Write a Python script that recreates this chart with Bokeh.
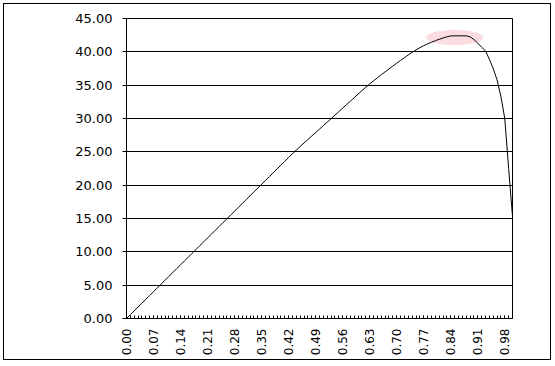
import math
from bokeh.plotting import figure
from bokeh.models import Range1d, FixedTicker, ColumnDataSource
from bokeh.embed import file_html
from bokeh.resources import INLINE

# category values (fraction), 0.00 .. 1.00
categories = [round(i * 0.01, 2) for i in range(101)]
# series values
values = [
    0.00, 0.58, 1.15, 1.73, 2.30, 2.88, 3.45, 4.03, 4.60, 5.18,
    5.75, 6.33, 6.90, 7.48, 8.05, 8.63, 9.20, 9.78, 10.35, 10.93,
    11.50, 12.08, 12.65, 13.23, 13.80, 14.38, 14.95, 15.53, 16.10, 16.68,
    17.25, 17.83, 18.40, 18.98, 19.55, 20.13, 20.70, 21.28, 21.85, 22.43,
    23.00, 23.58, 24.15, 24.73, 25.28, 25.80, 26.33, 26.85, 27.37, 27.89,
    28.41, 28.93, 29.45, 29.97, 30.50, 31.03, 31.55, 32.08, 32.60, 33.13,
    33.66, 34.18, 34.69, 35.18, 35.65, 36.11, 36.56, 37.00, 37.43, 37.86,
    38.29, 38.71, 39.12, 39.53, 39.92, 40.29, 40.62, 40.92, 41.19, 41.44,
    41.67, 41.88, 42.07, 42.25, 42.38, 42.40, 42.40, 42.40, 42.40, 42.25,
    41.85, 41.30, 40.70, 40.15, 38.90, 37.50, 35.80, 33.30, 30.00, 22.50,
    15.30,
]
label_step = 7
y_ticks = [0, 5, 10, 15, 20, 25, 30, 35, 40, 45]

x_idx = list(range(len(categories)))
src = ColumnDataSource(dict(x=x_idx, y=values))

p = figure(width=548, height=357, output_backend="svg", toolbar_location=None,
           x_range=Range1d(0, len(categories) - 1), y_range=Range1d(0, 45),
           min_border_left=122, min_border_right=40, min_border_top=14, min_border_bottom=43)
p.margin = (3, 0, 0, 3)
p.styles = {"border": "1px solid black"}
p.background_fill_color = "white"
p.border_fill_color = "white"
p.outline_line_color = "black"
p.outline_line_width = 1

# highlight around the peak
peak = max(values)
near = [i for i, v in enumerate(values) if v >= peak - 0.9]
cx = sum(near) / len(near)
p.ellipse(x=[cx], y=[peak - 0.25], width=[len(near) * 1.35], height=[2.3],
          fill_color="#FBDDE1", line_color=None)

p.line("x", "y", source=src, line_color="black", line_width=1)

# grid
p.xgrid.visible = False
p.ygrid.ticker = FixedTicker(ticks=y_ticks)
p.ygrid.grid_line_color = "black"
p.ygrid.grid_line_width = 1

font = "DejaVu Sans"

# y axis
ya = p.yaxis[0]
ya.ticker = FixedTicker(ticks=y_ticks)
ya.major_label_overrides = {t: f"{t:.2f}" for t in y_ticks}
ya.major_tick_in = 0
ya.major_tick_out = 4
ya.minor_tick_in = 0
ya.minor_tick_out = 0
ya.major_label_standoff = 10
ya.axis_line_color = "black"
ya.major_tick_line_color = "black"
ya.major_label_text_font = font
ya.major_label_text_font_size = "13px"
ya.major_label_text_color = "black"

# x axis
xa = p.xaxis[0]
major = [i for i in x_idx if i % label_step == 0]
xa.ticker = FixedTicker(ticks=major, minor_ticks=x_idx)
xa.major_label_overrides = {i: f"{categories[i]:.2f}" for i in major}
xa.major_label_orientation = math.pi / 2
xa.major_tick_in = 3
xa.major_tick_out = 0
xa.minor_tick_in = 3
xa.minor_tick_out = 0
xa.major_label_standoff = 10
xa.axis_line_color = "black"
xa.major_tick_line_color = "black"
xa.minor_tick_line_color = "black"
xa.major_label_text_font = font
xa.major_label_text_font_size = "12px"
xa.major_label_text_color = "black"

open("out.html", "w").write(file_html(p, INLINE))
